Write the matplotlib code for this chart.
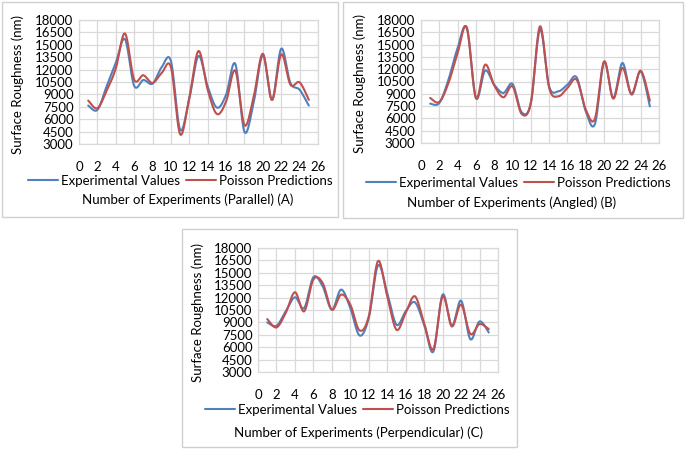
import numpy as np
import matplotlib
matplotlib.use("Agg")
import matplotlib.pyplot as plt
from matplotlib.patches import Rectangle

plt.rcParams['font.family'] = ['Lato', 'DejaVu Sans']

experiments = list(range(1, 26))

exp_parallel = [7650, 7120, 9970, 12820, 15680, 10050, 10740, 10300, 12300, 13030,
                4750, 8500, 13640, 9970, 7400, 8950, 12700, 4470, 8000, 13760,
                8340, 14530, 10380, 9560, 7650]
poi_parallel = [8260, 7320, 9440, 12130, 16370, 10790, 11320, 10380, 11600, 12300,
                4180, 8600, 14250, 9560, 6630, 8140, 11880, 5280, 8700, 13920,
                8340, 13840, 10170, 10460, 8340]

exp_angled = [7800, 7880, 10720, 14590, 17020, 8490, 11820, 10110, 9100, 10200,
              6740, 7880, 16820, 9910, 9300, 10110, 11010, 6860, 5320, 12840,
              8490, 12760, 8900, 11740, 7470]
poi_angled = [8490, 8000, 10310, 13970, 17100, 8490, 12550, 10030, 8570, 9910,
              6540, 7880, 17230, 9710, 8690, 9710, 10720, 7070, 5970, 12960,
              8410, 12150, 8980, 11820, 8160]

exp_perp = [9000, 8590, 10340, 12040, 10740, 14470, 13380, 10540, 12970, 10740,
            7420, 9530, 15890, 12570, 8720, 10340, 11430, 8720, 5470, 12360,
            8590, 11630, 6970, 9120, 7780]
poi_perp = [9400, 8390, 10140, 12650, 10340, 14190, 13780, 10540, 12360, 11150,
            8030, 9730, 16420, 12160, 8110, 10140, 12160, 8920, 5760, 12160,
            8510, 11150, 7620, 8800, 8190]

x_ticks = list(range(0, 27, 2))
y_ticks = list(range(3000, 18001, 1500))
series_names = ["Experimental Values", "Poisson Predictions"]
x_labels = ["Number of Experiments (Parallel) (A)",
            "Number of Experiments (Angled) (B)",
            "Number of Experiments (Perpendicular) (C)"]
y_label = "Surface Roughness (nm)"

BLUE = '#4F81BD'
RED = '#C0504D'
GRID = '#d9d9d9'
FS = 9.5


def smooth(x, y, n=20):
    x = np.asarray(x, float)
    y = np.asarray(y, float)
    px = np.concatenate([[x[0]], x, [x[-1]]])
    py = np.concatenate([[y[0]], y, [y[-1]]])
    xs, ys = [], []
    t = np.linspace(0, 1, n, endpoint=False)
    for i in range(1, len(px) - 2):
        p0x, p1x, p2x, p3x = px[i - 1], px[i], px[i + 1], px[i + 2]
        p0y, p1y, p2y, p3y = py[i - 1], py[i], py[i + 1], py[i + 2]
        c1x = p1x + (p2x - p0x) / 6
        c1y = p1y + (p2y - p0y) / 6
        c2x = p2x - (p3x - p1x) / 6
        c2y = p2y - (p3y - p1y) / 6
        b = [(1 - t) ** 3, 3 * (1 - t) ** 2 * t, 3 * (1 - t) * t ** 2, t ** 3]
        xs.append(b[0] * p1x + b[1] * c1x + b[2] * c2x + b[3] * p2x)
        ys.append(b[0] * p1y + b[1] * c1y + b[2] * c2y + b[3] * p2y)
    xs.append([x[-1]])
    ys.append([y[-1]])
    return np.concatenate(xs), np.concatenate(ys)


W, H = 685, 449
fig = plt.figure(figsize=(W / 100, H / 100), dpi=100)

panels = [
    dict(exp=exp_parallel, poi=poi_parallel, xl=x_labels[0],
         area=(79, 318, 20, 144), box=(2, 338, 2, 217),
         leg=(180, 181), xlab=(188, 200), ylab=18),
    dict(exp=exp_angled, poi=poi_angled, xl=x_labels[1],
         area=(421, 659, 20, 143), box=(343, 683, 2, 218),
         leg=(518, 183), xlab=(512, 203), ylab=360),
    dict(exp=exp_perp, poi=poi_perp, xl=x_labels[2],
         area=(258, 498, 248, 372), box=(182, 517, 229, 447),
         leg=(357, 410), xlab=(358, 433), ylab=198),
]

for p in panels:
    l, r, t, b = p['area']
    bl, br, bt, bb = p['box']
    fig.patches.append(Rectangle((bl / W, 1 - bb / H), (br - bl) / W, (bb - bt) / H,
                                 transform=fig.transFigure, fill=False,
                                 edgecolor='#d0d0d0', linewidth=1.0))
    ax = fig.add_axes([l / W, 1 - b / H, (r - l) / W, (b - t) / H])
    ax.set_xlim(0, 26)
    ax.set_ylim(3000, 18000)
    ax.set_xticks(x_ticks)
    ax.set_yticks(y_ticks)
    ax.grid(True, color=GRID, linewidth=0.9)
    ax.set_axisbelow(True)
    for s in ax.spines.values():
        s.set_color(GRID)
        s.set_linewidth(0.9)
    ax.tick_params(length=0, labelsize=FS, colors='#000000', pad=4)
    ax.tick_params(axis='x', pad=12)
    sx, sy = smooth(experiments, p['exp'])
    l1, = ax.plot(sx, sy, color=BLUE, linewidth=1.5, solid_capstyle='round', clip_on=False)
    sx, sy = smooth(experiments, p['poi'])
    l2, = ax.plot(sx, sy, color=RED, linewidth=1.5, solid_capstyle='round', clip_on=False)
    ax.legend([l1, l2], series_names, ncol=2, loc='center',
              bbox_to_anchor=(p['leg'][0] / W, 1 - p['leg'][1] / H),
              bbox_transform=fig.transFigure, frameon=False, fontsize=FS,
              handlelength=2.3, handletextpad=0.2, columnspacing=0.45,
              borderpad=0, borderaxespad=0)
    fig.text(p['xlab'][0] / W, 1 - p['xlab'][1] / H, p['xl'], ha='center', va='center',
             fontsize=FS)
    fig.text(p['ylab'] / W, 1 - ((t + b) / 2 + 2) / H, y_label, rotation=90,
             ha='center', va='center', fontsize=FS)

fig.savefig('out.png', dpi=100)
